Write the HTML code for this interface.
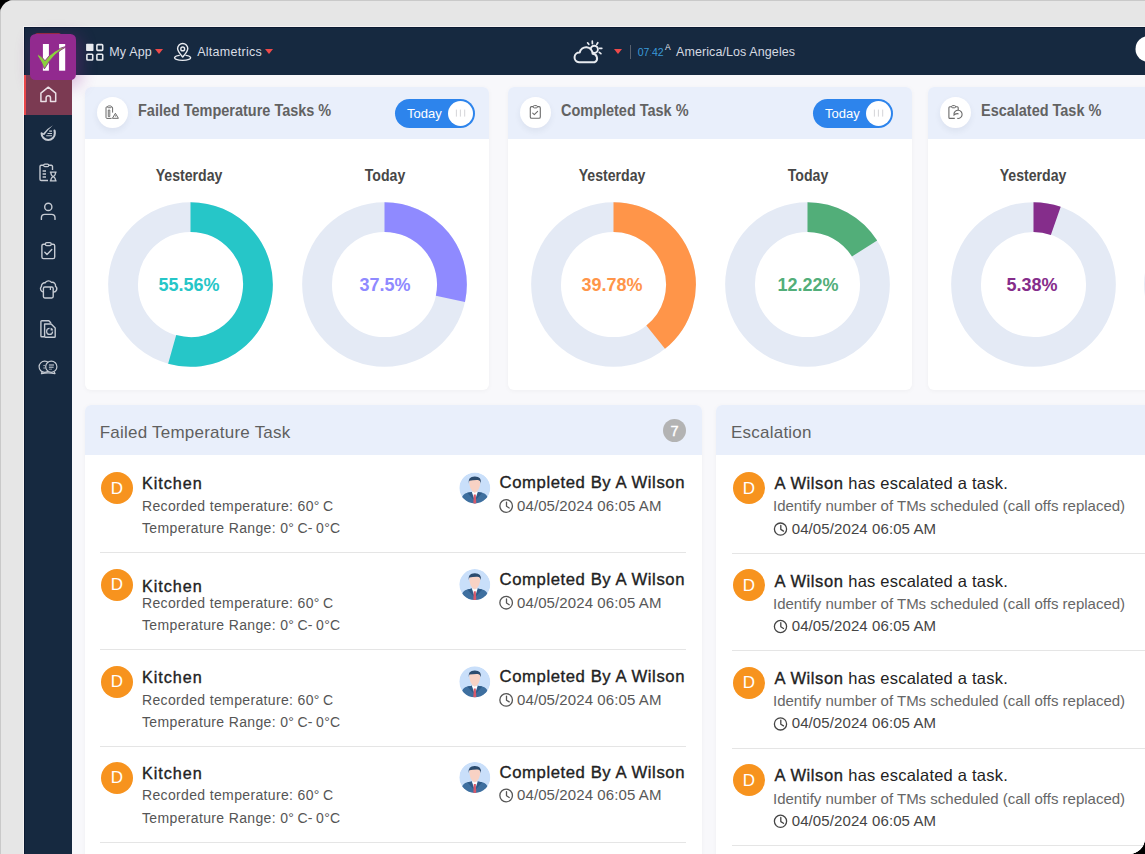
<!DOCTYPE html>
<html><head><meta charset="utf-8">
<style>
*{box-sizing:border-box;margin:0;padding:0}
html,body{width:1145px;height:854px;overflow:hidden;background:#000}
body{font-family:"Liberation Sans",sans-serif;position:relative}
#frame{position:absolute;left:0;top:0;width:1145px;height:854px;background:#e6e6e6;border-radius:14px 0 16px 0;overflow:hidden}
.abs{position:absolute}
.tx{white-space:nowrap}
</style></head><body>
<div id="frame">
<div class="abs" style="left:0px;top:0px;width:1145px;height:1px;background:#c9c9c9;"></div>
<div class="abs" style="left:0px;top:0px;width:1px;height:854px;background:#c9c9c9;"></div>
<div class="abs" style="left:23px;top:26px;width:1122px;height:1px;background:#f4f2f2;"></div>
<div class="abs" style="left:23px;top:26px;width:1px;height:828px;background:#f4f2f2;"></div>
<div class="abs" style="left:24px;top:27px;width:1121px;height:827px;background:#f8f8fb;"></div>
<div class="abs" style="left:24px;top:27px;width:1121px;height:48px;background:#162940;"></div>
<div class="abs" style="left:24px;top:75px;width:48px;height:779px;background:#162940;"></div>
<div class="abs" style="left:24px;top:27px;width:1121px;height:1px;background:#0b1a32;"></div>
<div class="abs" style="left:24px;top:27px;width:1px;height:827px;background:#0b1a32;"></div>
<div class="abs" style="left:85px;top:87px;width:404px;height:303px;background:#fff;border-radius:6px;box-shadow:0 1px 5px rgba(0,0,0,0.04)"></div>
<div class="abs" style="left:85px;top:87px;width:404px;height:52px;background:#e9effb;border-radius:6px 6px 0 0"></div>
<div class="abs" style="left:96.8px;top:97px;width:30.8px;height:30.8px;background:#fff;border-radius:50%;box-shadow:0 3px 6px rgba(40,50,90,0.07)"></div>
<div class="abs tx" style="left:137.50px;top:102.50px;font-size:16px;line-height:16px;color:#626262;font-weight:700;letter-spacing:0px;transform:scale(0.904,1);transform-origin:0 13.60px;">Failed Temperature Tasks %</div>
<div class="abs" style="left:395px;top:99px;width:80px;height:29px;background:#2d84ec;border-radius:15px"></div>
<div class="abs" style="left:448px;top:101px;width:25px;height:25px;background:#fff;border-radius:50%"></div>
<div class="abs tx" style="left:407.00px;top:106.95px;font-size:13px;line-height:13px;color:#fff;font-weight:400;letter-spacing:0px;">Today</div>
<div class="abs tx" style="left:89.00px;width:200px;text-align:center;top:167.90px;font-size:16px;line-height:16px;color:#474747;font-weight:700;letter-spacing:0px;transform:scaleX(0.882);transform-origin:50% 0;">Yesterday</div>
<svg class="abs" style="left:107.70px;top:202.3px" width="165" height="165" viewBox="0 0 165 165"><circle cx="82.5" cy="82.5" r="67.45" fill="none" stroke="#e4eaf5" stroke-width="29.8"/><path d="M82.50 15.05 A67.45 67.45 0 1 1 64.17 147.41" fill="none" stroke="#26c6c8" stroke-width="29.8"/></svg>
<div class="abs tx" style="left:89.20px;width:200px;text-align:center;top:275.56px;font-size:18.4px;line-height:18.4px;color:#26c6c8;font-weight:700;letter-spacing:0px;transform:scaleX(0.979);transform-origin:50% 0;">55.56%</div>
<div class="abs tx" style="left:284.50px;width:200px;text-align:center;top:167.90px;font-size:16px;line-height:16px;color:#474747;font-weight:700;letter-spacing:0px;transform:scaleX(0.882);transform-origin:50% 0;">Today</div>
<svg class="abs" style="left:301.50px;top:202.3px" width="165" height="165" viewBox="0 0 165 165"><circle cx="82.5" cy="82.5" r="67.45" fill="none" stroke="#e4eaf5" stroke-width="29.8"/><path d="M82.50 15.05 A67.45 67.45 0 0 1 148.42 96.80" fill="none" stroke="#8f8aff" stroke-width="29.8"/></svg>
<div class="abs tx" style="left:284.50px;width:200px;text-align:center;top:275.56px;font-size:18.4px;line-height:18.4px;color:#8f8aff;font-weight:700;letter-spacing:0px;transform:scaleX(0.979);transform-origin:50% 0;">37.5%</div>
<div class="abs" style="left:508px;top:87px;width:404px;height:303px;background:#fff;border-radius:6px;box-shadow:0 1px 5px rgba(0,0,0,0.04)"></div>
<div class="abs" style="left:508px;top:87px;width:404px;height:52px;background:#e9effb;border-radius:6px 6px 0 0"></div>
<div class="abs" style="left:519.8px;top:97px;width:30.8px;height:30.8px;background:#fff;border-radius:50%;box-shadow:0 3px 6px rgba(40,50,90,0.07)"></div>
<div class="abs tx" style="left:560.50px;top:102.50px;font-size:16px;line-height:16px;color:#626262;font-weight:700;letter-spacing:0px;transform:scale(0.904,1);transform-origin:0 13.60px;">Completed Task %</div>
<div class="abs" style="left:813px;top:99px;width:80px;height:29px;background:#2d84ec;border-radius:15px"></div>
<div class="abs" style="left:866px;top:101px;width:25px;height:25px;background:#fff;border-radius:50%"></div>
<div class="abs tx" style="left:825.00px;top:106.95px;font-size:13px;line-height:13px;color:#fff;font-weight:400;letter-spacing:0px;">Today</div>
<div class="abs tx" style="left:512.10px;width:200px;text-align:center;top:167.90px;font-size:16px;line-height:16px;color:#474747;font-weight:700;letter-spacing:0px;transform:scaleX(0.882);transform-origin:50% 0;">Yesterday</div>
<svg class="abs" style="left:531.00px;top:202.3px" width="165" height="165" viewBox="0 0 165 165"><circle cx="82.5" cy="82.5" r="67.45" fill="none" stroke="#e4eaf5" stroke-width="29.8"/><path d="M82.50 15.05 A67.45 67.45 0 0 1 124.67 135.14" fill="none" stroke="#ff9549" stroke-width="29.8"/></svg>
<div class="abs tx" style="left:512.00px;width:200px;text-align:center;top:275.56px;font-size:18.4px;line-height:18.4px;color:#ff9549;font-weight:700;letter-spacing:0px;transform:scaleX(0.979);transform-origin:50% 0;">39.78%</div>
<div class="abs tx" style="left:708.00px;width:200px;text-align:center;top:167.90px;font-size:16px;line-height:16px;color:#474747;font-weight:700;letter-spacing:0px;transform:scaleX(0.882);transform-origin:50% 0;">Today</div>
<svg class="abs" style="left:724.50px;top:202.3px" width="165" height="165" viewBox="0 0 165 165"><circle cx="82.5" cy="82.5" r="67.45" fill="none" stroke="#e4eaf5" stroke-width="29.8"/><path d="M82.50 15.05 A67.45 67.45 0 0 1 139.56 46.54" fill="none" stroke="#52ae79" stroke-width="29.8"/></svg>
<div class="abs tx" style="left:707.80px;width:200px;text-align:center;top:275.56px;font-size:18.4px;line-height:18.4px;color:#52ae79;font-weight:700;letter-spacing:0px;transform:scaleX(0.979);transform-origin:50% 0;">12.22%</div>
<div class="abs" style="left:928px;top:87px;width:404px;height:303px;background:#fff;border-radius:6px;box-shadow:0 1px 5px rgba(0,0,0,0.04)"></div>
<div class="abs" style="left:928px;top:87px;width:404px;height:52px;background:#e9effb;border-radius:6px 6px 0 0"></div>
<div class="abs" style="left:939.8px;top:97px;width:30.8px;height:30.8px;background:#fff;border-radius:50%;box-shadow:0 3px 6px rgba(40,50,90,0.07)"></div>
<div class="abs tx" style="left:980.50px;top:102.50px;font-size:16px;line-height:16px;color:#626262;font-weight:700;letter-spacing:0px;transform:scale(0.904,1);transform-origin:0 13.60px;">Escalated Task %</div>
<div class="abs tx" style="left:932.60px;width:200px;text-align:center;top:167.90px;font-size:16px;line-height:16px;color:#474747;font-weight:700;letter-spacing:0px;transform:scaleX(0.882);transform-origin:50% 0;">Yesterday</div>
<svg class="abs" style="left:950.50px;top:202.3px" width="165" height="165" viewBox="0 0 165 165"><circle cx="82.5" cy="82.5" r="67.45" fill="none" stroke="#e4eaf5" stroke-width="29.8"/><path d="M82.50 15.05 A67.45 67.45 0 0 1 104.79 18.84" fill="none" stroke="#852d8b" stroke-width="29.8"/></svg>
<div class="abs tx" style="left:931.60px;width:200px;text-align:center;top:275.56px;font-size:18.4px;line-height:18.4px;color:#852d8b;font-weight:700;letter-spacing:0px;transform:scaleX(0.979);transform-origin:50% 0;">5.38%</div>
<div class="abs tx" style="left:1125.50px;width:200px;text-align:center;top:167.90px;font-size:16px;line-height:16px;color:#474747;font-weight:700;letter-spacing:0px;transform:scaleX(0.882);transform-origin:50% 0;">Today</div>
<svg class="abs" style="left:1143.50px;top:202.3px" width="165" height="165" viewBox="0 0 165 165"><circle cx="82.5" cy="82.5" r="67.45" fill="none" stroke="#e4eaf5" stroke-width="29.8"/><path d="M82.50 15.05 A67.45 67.45 0 0 1 146.65 103.34" fill="none" stroke="#8f8aff" stroke-width="29.8"/></svg>
<div class="abs" style="left:85px;top:405px;width:617px;height:460px;background:#fff;border-radius:6px;box-shadow:0 1px 5px rgba(0,0,0,0.04)"></div>
<div class="abs" style="left:85px;top:405px;width:617px;height:50px;background:#e9effb;border-radius:6px 6px 0 0"></div>
<div class="abs tx" style="left:99.70px;top:424.35px;font-size:17px;line-height:17px;color:#5f5f5f;font-weight:400;letter-spacing:0.23px;">Failed Temperature Task</div>
<div class="abs" style="left:663px;top:419px;width:23px;height:23px;background:#b3b3b3;border-radius:50%"></div>
<div class="abs tx" style="left:664.5px;width:20px;text-align:center;top:423.68px;font-size:14.5px;line-height:14.5px;color:#fff;-webkit-text-stroke:0.4px #fff">7</div>
<div class="abs" style="left:716px;top:405px;width:450px;height:460px;background:#fff;border-radius:6px;box-shadow:0 1px 5px rgba(0,0,0,0.04)"></div>
<div class="abs" style="left:716px;top:405px;width:450px;height:50px;background:#e9effb;border-radius:6px 6px 0 0"></div>
<div class="abs tx" style="left:731.00px;top:424.35px;font-size:17px;line-height:17px;color:#5f5f5f;font-weight:400;letter-spacing:0.23px;">Escalation</div>
<div class="abs" style="left:101px;top:472px;width:32px;height:32px;background:#f7931e;border-radius:50%"></div>
<div class="abs tx" style="left:101.00px;width:32px;text-align:center;top:479.55px;font-size:17px;line-height:17px;color:#fff;font-weight:400;letter-spacing:0px;">D</div>
<div class="abs tx" style="left:142.00px;top:475.13px;font-size:16.2px;line-height:16.2px;color:#222;font-weight:400;letter-spacing:0.95px;-webkit-text-stroke:0.35px #222;">Kitchen</div>
<div class="abs tx" style="left:142.00px;top:498.90px;font-size:14px;line-height:14px;color:#555;font-weight:400;letter-spacing:0.35px;">Recorded temperature: 60°&thinsp;C</div>
<div class="abs tx" style="left:142.00px;top:521.00px;font-size:14px;line-height:14px;color:#555;font-weight:400;letter-spacing:0.35px;">Temperature Range: 0°&thinsp;C-&thinsp;0°C</div>
<div class="abs tx" style="left:499.60px;top:475.00px;font-size:16.7px;line-height:16.7px;color:#222;font-weight:400;letter-spacing:0.57px;-webkit-text-stroke:0.35px #222;">Completed By A Wilson</div>
<div class="abs tx" style="left:517.00px;top:497.85px;font-size:15px;line-height:15px;color:#585858;font-weight:400;letter-spacing:0.1px;">04/05/2024 06:05 AM</div>
<div class="abs" style="left:100px;top:552px;width:586px;height:1px;background:#e5e5e5;"></div>
<div class="abs" style="left:101px;top:568.7px;width:32px;height:32px;background:#f7931e;border-radius:50%"></div>
<div class="abs tx" style="left:101.00px;width:32px;text-align:center;top:576.25px;font-size:17px;line-height:17px;color:#fff;font-weight:400;letter-spacing:0px;">D</div>
<div class="abs tx" style="left:142.00px;top:577.83px;font-size:16.2px;line-height:16.2px;color:#222;font-weight:400;letter-spacing:0.95px;-webkit-text-stroke:0.35px #222;">Kitchen</div>
<div class="abs tx" style="left:142.00px;top:595.60px;font-size:14px;line-height:14px;color:#555;font-weight:400;letter-spacing:0.35px;">Recorded temperature: 60°&thinsp;C</div>
<div class="abs tx" style="left:142.00px;top:617.70px;font-size:14px;line-height:14px;color:#555;font-weight:400;letter-spacing:0.35px;">Temperature Range: 0°&thinsp;C-&thinsp;0°C</div>
<div class="abs tx" style="left:499.60px;top:571.70px;font-size:16.7px;line-height:16.7px;color:#222;font-weight:400;letter-spacing:0.57px;-webkit-text-stroke:0.35px #222;">Completed By A Wilson</div>
<div class="abs tx" style="left:517.00px;top:594.55px;font-size:15px;line-height:15px;color:#585858;font-weight:400;letter-spacing:0.1px;">04/05/2024 06:05 AM</div>
<div class="abs" style="left:100px;top:648.7px;width:586px;height:1px;background:#e5e5e5;"></div>
<div class="abs" style="left:101px;top:665.9px;width:32px;height:32px;background:#f7931e;border-radius:50%"></div>
<div class="abs tx" style="left:101.00px;width:32px;text-align:center;top:673.45px;font-size:17px;line-height:17px;color:#fff;font-weight:400;letter-spacing:0px;">D</div>
<div class="abs tx" style="left:142.00px;top:669.03px;font-size:16.2px;line-height:16.2px;color:#222;font-weight:400;letter-spacing:0.95px;-webkit-text-stroke:0.35px #222;">Kitchen</div>
<div class="abs tx" style="left:142.00px;top:692.80px;font-size:14px;line-height:14px;color:#555;font-weight:400;letter-spacing:0.35px;">Recorded temperature: 60°&thinsp;C</div>
<div class="abs tx" style="left:142.00px;top:714.90px;font-size:14px;line-height:14px;color:#555;font-weight:400;letter-spacing:0.35px;">Temperature Range: 0°&thinsp;C-&thinsp;0°C</div>
<div class="abs tx" style="left:499.60px;top:668.90px;font-size:16.7px;line-height:16.7px;color:#222;font-weight:400;letter-spacing:0.57px;-webkit-text-stroke:0.35px #222;">Completed By A Wilson</div>
<div class="abs tx" style="left:517.00px;top:691.75px;font-size:15px;line-height:15px;color:#585858;font-weight:400;letter-spacing:0.1px;">04/05/2024 06:05 AM</div>
<div class="abs" style="left:100px;top:745.9px;width:586px;height:1px;background:#e5e5e5;"></div>
<div class="abs" style="left:101px;top:761.5px;width:32px;height:32px;background:#f7931e;border-radius:50%"></div>
<div class="abs tx" style="left:101.00px;width:32px;text-align:center;top:769.05px;font-size:17px;line-height:17px;color:#fff;font-weight:400;letter-spacing:0px;">D</div>
<div class="abs tx" style="left:142.00px;top:764.63px;font-size:16.2px;line-height:16.2px;color:#222;font-weight:400;letter-spacing:0.95px;-webkit-text-stroke:0.35px #222;">Kitchen</div>
<div class="abs tx" style="left:142.00px;top:788.40px;font-size:14px;line-height:14px;color:#555;font-weight:400;letter-spacing:0.35px;">Recorded temperature: 60°&thinsp;C</div>
<div class="abs tx" style="left:142.00px;top:810.50px;font-size:14px;line-height:14px;color:#555;font-weight:400;letter-spacing:0.35px;">Temperature Range: 0°&thinsp;C-&thinsp;0°C</div>
<div class="abs tx" style="left:499.60px;top:764.50px;font-size:16.7px;line-height:16.7px;color:#222;font-weight:400;letter-spacing:0.57px;-webkit-text-stroke:0.35px #222;">Completed By A Wilson</div>
<div class="abs tx" style="left:517.00px;top:787.35px;font-size:15px;line-height:15px;color:#585858;font-weight:400;letter-spacing:0.1px;">04/05/2024 06:05 AM</div>
<div class="abs" style="left:100px;top:841.5px;width:586px;height:1px;background:#e5e5e5;"></div>
<div class="abs" style="left:733px;top:472px;width:32px;height:32px;background:#f7931e;border-radius:50%"></div>
<div class="abs tx" style="left:733.00px;width:32px;text-align:center;top:479.55px;font-size:17px;line-height:17px;color:#fff;font-weight:400;letter-spacing:0px;">D</div>
<div class="abs tx" style="left:774.50px;top:475.18px;font-size:16.5px;line-height:16.5px;color:#222;font-weight:400;letter-spacing:0.22px;"><span style='-webkit-text-stroke:0.35px #222;letter-spacing:0.6px'>A Wilson</span> has escalated a task.</div>
<div class="abs tx" style="left:773.00px;top:498.35px;font-size:15px;line-height:15px;color:#666;font-weight:400;letter-spacing:0px;">Identify number of TMs scheduled (call offs replaced)</div>
<div class="abs tx" style="left:791.70px;top:520.65px;font-size:15px;line-height:15px;color:#444;font-weight:400;letter-spacing:0.1px;">04/05/2024 06:05 AM</div>
<div class="abs" style="left:732px;top:553px;width:420px;height:1px;background:#e5e5e5;"></div>
<div class="abs" style="left:733px;top:569.4px;width:32px;height:32px;background:#f7931e;border-radius:50%"></div>
<div class="abs tx" style="left:733.00px;width:32px;text-align:center;top:576.95px;font-size:17px;line-height:17px;color:#fff;font-weight:400;letter-spacing:0px;">D</div>
<div class="abs tx" style="left:774.50px;top:572.58px;font-size:16.5px;line-height:16.5px;color:#222;font-weight:400;letter-spacing:0.22px;"><span style='-webkit-text-stroke:0.35px #222;letter-spacing:0.6px'>A Wilson</span> has escalated a task.</div>
<div class="abs tx" style="left:773.00px;top:595.75px;font-size:15px;line-height:15px;color:#666;font-weight:400;letter-spacing:0px;">Identify number of TMs scheduled (call offs replaced)</div>
<div class="abs tx" style="left:791.70px;top:618.05px;font-size:15px;line-height:15px;color:#444;font-weight:400;letter-spacing:0.1px;">04/05/2024 06:05 AM</div>
<div class="abs" style="left:732px;top:650.4px;width:420px;height:1px;background:#e5e5e5;"></div>
<div class="abs" style="left:733px;top:666.8px;width:32px;height:32px;background:#f7931e;border-radius:50%"></div>
<div class="abs tx" style="left:733.00px;width:32px;text-align:center;top:674.35px;font-size:17px;line-height:17px;color:#fff;font-weight:400;letter-spacing:0px;">D</div>
<div class="abs tx" style="left:774.50px;top:669.98px;font-size:16.5px;line-height:16.5px;color:#222;font-weight:400;letter-spacing:0.22px;"><span style='-webkit-text-stroke:0.35px #222;letter-spacing:0.6px'>A Wilson</span> has escalated a task.</div>
<div class="abs tx" style="left:773.00px;top:693.15px;font-size:15px;line-height:15px;color:#666;font-weight:400;letter-spacing:0px;">Identify number of TMs scheduled (call offs replaced)</div>
<div class="abs tx" style="left:791.70px;top:715.45px;font-size:15px;line-height:15px;color:#444;font-weight:400;letter-spacing:0.1px;">04/05/2024 06:05 AM</div>
<div class="abs" style="left:732px;top:747.8px;width:420px;height:1px;background:#e5e5e5;"></div>
<div class="abs" style="left:733px;top:764.2px;width:32px;height:32px;background:#f7931e;border-radius:50%"></div>
<div class="abs tx" style="left:733.00px;width:32px;text-align:center;top:771.75px;font-size:17px;line-height:17px;color:#fff;font-weight:400;letter-spacing:0px;">D</div>
<div class="abs tx" style="left:774.50px;top:767.38px;font-size:16.5px;line-height:16.5px;color:#222;font-weight:400;letter-spacing:0.22px;"><span style='-webkit-text-stroke:0.35px #222;letter-spacing:0.6px'>A Wilson</span> has escalated a task.</div>
<div class="abs tx" style="left:773.00px;top:790.55px;font-size:15px;line-height:15px;color:#666;font-weight:400;letter-spacing:0px;">Identify number of TMs scheduled (call offs replaced)</div>
<div class="abs tx" style="left:791.70px;top:812.85px;font-size:15px;line-height:15px;color:#444;font-weight:400;letter-spacing:0.1px;">04/05/2024 06:05 AM</div>
<div class="abs" style="left:732px;top:845.2px;width:420px;height:1px;background:#e5e5e5;"></div>
<div class="abs" style="left:30px;top:34px;width:46px;height:46px;background:transparent;border-radius:6px;box-shadow:3px 4px 16px 2px rgba(150,40,150,0.30)"></div>
<div class="abs" style="left:24px;top:75px;width:48px;height:40px;background:#7b3a52;"></div>
<div class="abs" style="left:24px;top:75px;width:2px;height:40px;background:#e8474a;"></div>
<div class="abs tx" style="left:109.30px;top:46.27px;font-size:12.5px;line-height:12.5px;color:#dadee5;font-weight:400;letter-spacing:0.16px;">My App</div>
<div class="abs tx" style="left:197.20px;top:46.27px;font-size:12.5px;line-height:12.5px;color:#dadee5;font-weight:400;letter-spacing:0.27px;">Altametrics</div>
<div class="abs tx" style="left:637.80px;top:46.68px;font-size:10.5px;line-height:10.5px;color:#3a9ad9;font-weight:400;letter-spacing:-0.1px;">07<span style='opacity:0.35'>:</span>42</div>
<div class="abs tx" style="left:665.00px;top:42.77px;font-size:8.5px;line-height:8.5px;color:#e1e5ec;font-weight:400;letter-spacing:0px;">A</div>
<div class="abs tx" style="left:676.00px;top:45.77px;font-size:12.5px;line-height:12.5px;color:#d5d9e0;font-weight:400;letter-spacing:0.09px;">America/Los Angeles</div>
<div class="abs" style="left:154.7px;top:49px;width:0;height:0;border-left:4.5px solid transparent;border-right:4.5px solid transparent;border-top:5px solid #ee4a4a"></div>
<div class="abs" style="left:265.3px;top:49px;width:0;height:0;border-left:4.5px solid transparent;border-right:4.5px solid transparent;border-top:5px solid #ee4a4a"></div>
<div class="abs" style="left:613.7px;top:49px;width:0;height:0;border-left:4.5px solid transparent;border-right:4.5px solid transparent;border-top:5px solid #ee4a4a"></div>
<div class="abs" style="left:629.5px;top:44.5px;width:1.5px;height:14.5px;background:#59616e;"></div>
<svg class="abs" style="left:0;top:0" width="1145" height="854" viewBox="0 0 1145 854"><defs><clipPath id="avc"><circle r="15.5"/></clipPath></defs><rect x="35" y="33.2" width="26" height="4" rx="2" fill="#c0283f"/><rect x="30" y="34" width="46" height="46" rx="5.5" fill="#922a8f"/><rect x="42.9" y="44" width="6" height="26.7" fill="#fff"/><rect x="59.1" y="44" width="6.1" height="26.7" fill="#fff"/><path d="M38.4 54.6 Q41 55.6 45 60.8 Q53 49.3 67.6 45.9 Q53.5 53 44.4 68.9 Q41.2 61 37.9 56.4 Q37.4 55 38.4 54.6 Z" fill="#8bd03e" stroke="#922a8f" stroke-width="0.9" stroke-linejoin="round"/><rect x="86.1" y="43.8" width="7.4" height="7.2" rx="0.8" fill="#e8ebf0"/><rect x="96.9" y="44.6" width="5.8" height="5.8" rx="0.8" fill="none" stroke="#e8ebf0" stroke-width="1.6"/><rect x="86.9" y="54.2" width="5.8" height="5.8" rx="0.8" fill="none" stroke="#e8ebf0" stroke-width="1.6"/><rect x="96.9" y="54.2" width="5.8" height="5.8" rx="0.8" fill="none" stroke="#e8ebf0" stroke-width="1.6"/><path d="M179.2 55.4 A8 2.6 0 1 0 186 55.4" fill="none" stroke="#e8ebf0" stroke-width="1.4" stroke-linecap="round"/><path d="M182.7 57 C181 55 177.6 51.5 177.6 48.6 A5.1 5.1 0 0 1 187.8 48.6 C187.8 51.5 184.4 55 182.7 57 Z" fill="none" stroke="#e8ebf0" stroke-width="1.4" stroke-linejoin="round"/><circle cx="182.7" cy="48.9" r="1.9" fill="none" stroke="#e8ebf0" stroke-width="1.4"/><circle cx="594.3" cy="49.3" r="3.6" fill="none" stroke="#e8ebf0" stroke-width="1.9"/><path d="M579 62.2 H594.8 A4.5 4.5 0 0 0 592.6 53.8 A6.5 6.5 0 0 0 579.7 52.6 A4.8 4.8 0 0 0 579 62.2 Z" fill="#162940" stroke="#e8ebf0" stroke-width="2" stroke-linejoin="round"/><line x1="592.3" y1="41.2" x2="592.4" y2="43.6" stroke="#e8ebf0" stroke-width="1.7" stroke-linecap="round"/><line x1="587.6" y1="42.8" x2="588.8" y2="44.3" stroke="#e8ebf0" stroke-width="1.7" stroke-linecap="round"/><line x1="597.8" y1="42.7" x2="596.8" y2="44.4" stroke="#e8ebf0" stroke-width="1.7" stroke-linecap="round"/><line x1="599.5" y1="48.3" x2="601.8" y2="48.3" stroke="#e8ebf0" stroke-width="1.7" stroke-linecap="round"/><line x1="599.3" y1="52.3" x2="600.9" y2="53.6" stroke="#e8ebf0" stroke-width="1.7" stroke-linecap="round"/><circle cx="1148.5" cy="49" r="13" fill="#fff"/><path d="M40.9 93.2 L48.3 87.2 L55.7 93.2 V101.6 H50.5 V97.9 a2.2 2.2 0 0 0 -4.4 0 V101.6 H40.9 Z" fill="none" stroke="#eadfe5" stroke-width="1.5" stroke-linejoin="round"/><path d="M41.6 133.4 A6.6 6.6 0 0 0 54.8 133.4 A6.6 6.6 0 0 0 54.5 130.6" fill="none" stroke="#c6cbd3" stroke-width="2.1" stroke-linecap="round"/><path d="M41.2 133.6 Q42 132.4 43.4 133.2 Q47 128.5 53 125.2 Q48 129.5 44.3 135 Q42.2 135.2 41.2 133.6 Z" fill="#c6cbd3"/><line x1="49.2" y1="131.1" x2="52" y2="131.1" stroke="#c6cbd3" stroke-width="1.1"/><line x1="47.5" y1="133.5" x2="52" y2="133.5" stroke="#c6cbd3" stroke-width="1.1"/><line x1="46.2" y1="135.8" x2="52" y2="135.8" stroke="#c6cbd3" stroke-width="1.1"/><path d="M52.5 170 V166.5 a1.2 1.2 0 0 0 -1.2 -1.2 H41.2 a1.2 1.2 0 0 0 -1.2 1.2 V179.3 a1.2 1.2 0 0 0 1.2 1.2 H48" fill="none" stroke="#c6cbd3" stroke-width="1.4"/><rect x="43.7" y="164.2" width="5" height="2.4" rx="1.1" fill="#162940" stroke="#c6cbd3" stroke-width="1.2"/><line x1="42.6" y1="171" x2="46" y2="171" stroke="#c6cbd3" stroke-width="1.3"/><line x1="42.6" y1="174" x2="46" y2="174" stroke="#c6cbd3" stroke-width="1.3"/><line x1="42.6" y1="177" x2="46" y2="177" stroke="#c6cbd3" stroke-width="1.3"/><path d="M49.8 172.2 H56.6 M49.8 180.8 H56.6 M50.8 172.2 Q50.8 175.3 53.2 176.5 Q55.6 177.7 55.6 180.8 M55.6 172.2 Q55.6 175.3 53.2 176.5 Q50.8 177.7 50.8 180.8" fill="none" stroke="#c6cbd3" stroke-width="1.3"/><circle cx="48.3" cy="206.9" r="3.6" fill="none" stroke="#c6cbd3" stroke-width="1.4"/><path d="M41.4 219.4 V217.8 a3.4 3.4 0 0 1 3.4 -3.4 H51.6 a3.4 3.4 0 0 1 3.4 3.4 V219.4" fill="none" stroke="#c6cbd3" stroke-width="1.4" stroke-linecap="round"/><rect x="41.9" y="244.2" width="12.8" height="14.4" rx="1.6" fill="none" stroke="#c6cbd3" stroke-width="1.4"/><rect x="45.4" y="242.6" width="5.8" height="3" rx="1.3" fill="#162940" stroke="#c6cbd3" stroke-width="1.3"/><path d="M44.8 252.3 L47 254.6 L51.8 249.6" fill="none" stroke="#c6cbd3" stroke-width="1.4" stroke-linecap="round" stroke-linejoin="round"/><path d="M43.8 292 a3.3 3.3 0 0 1 -2.4 -5.6 a3.4 3.4 0 0 1 3.7 -3.6 a3.8 3.8 0 0 1 6.4 -0.4 a3.3 3.3 0 0 1 4 3.9 a3.2 3.2 0 0 1 -2.5 5.7" fill="none" stroke="#c6cbd3" stroke-width="1.4"/><rect x="43.4" y="287" width="9.8" height="11" rx="1.4" fill="#162940" stroke="#c6cbd3" stroke-width="1.4"/><line x1="50.4" y1="287" x2="50.4" y2="290" stroke="#c6cbd3" stroke-width="1.2"/><path d="M44.5 336.8 H41.8 a0.9 0.9 0 0 1 -0.9 -0.9 V321.6 a0.9 0.9 0 0 1 0.9 -0.9 H48.8 L51 323" fill="none" stroke="#c6cbd3" stroke-width="1.4"/><path d="M44.6 324 H51.2 L55.2 328 V336.4 a0.9 0.9 0 0 1 -0.9 0.9 H45.5 a0.9 0.9 0 0 1 -0.9 -0.9 Z" fill="#162940" stroke="#c6cbd3" stroke-width="1.4" stroke-linejoin="round"/><path d="M52.6 331.4 A3 3 0 1 1 49.6 328.4" fill="none" stroke="#c6cbd3" stroke-width="1.2"/><path d="M50.6 327.8 A3 3 0 0 1 53.2 330.4 H50.6 Z" fill="#c6cbd3"/><circle cx="44.7" cy="366.8" r="5.6" fill="none" stroke="#c6cbd3" stroke-width="1.2"/><path d="M42.2 371.6 L41.4 373.6 Q48 372 55 373.6 L54.2 371.6" fill="none" stroke="#c6cbd3" stroke-width="1.2" stroke-linejoin="round"/><circle cx="51.3" cy="366.7" r="5.6" fill="#162940" stroke="#c6cbd3" stroke-width="1.2"/><line x1="48.9" y1="365.0" x2="54" y2="365.0" stroke="#c6cbd3" stroke-width="1.1"/><line x1="48.9" y1="367.2" x2="53.6" y2="367.2" stroke="#c6cbd3" stroke-width="1.1"/><line x1="48.9" y1="369.2" x2="52" y2="369.2" stroke="#c6cbd3" stroke-width="1.0" opacity="0.7"/><line x1="43.3" y1="365.6" x2="45.4" y2="365.6" stroke="#c6cbd3" stroke-width="1.0" opacity="0.8"/><line x1="43.3" y1="368.0" x2="45.4" y2="368.0" stroke="#c6cbd3" stroke-width="1.0" opacity="0.8"/><path d="M112.6 112.6 V107.8 a1 1 0 0 0 -1 -1 H107 a1 1 0 0 0 -1 1 V117.4 a1 1 0 0 0 1 1 H111.6" fill="none" stroke="#6a6a6a" stroke-width="1"/><rect x="107.6" y="105.9" width="3.8" height="1.8" rx="0.9" fill="#fff" stroke="#6a6a6a" stroke-width="0.9"/><path d="M108.3 110 h1.5 v6.5 h-1.5 Z" fill="none" stroke="#6a6a6a" stroke-width="0.9"/><path d="M115.4 113.3 L118.4 118.3 H112.4 Z" fill="#fff" stroke="#6a6a6a" stroke-width="1" stroke-linejoin="round"/><line x1="115.4" y1="115.3" x2="115.4" y2="116.6" stroke="#6a6a6a" stroke-width="0.9"/><rect x="530.3" y="106.6" width="10" height="11.7" rx="1.3" fill="none" stroke="#6a6a6a" stroke-width="1.1"/><rect x="533.2" y="105.6" width="4.2" height="2.3" rx="1.1" fill="#fff" stroke="#6a6a6a" stroke-width="1"/><path d="M532.7 113.2 L534.3 114.6 L537.6 111.4" fill="none" stroke="#6a6a6a" stroke-width="1.1" stroke-linecap="round" stroke-linejoin="round"/><path d="M958.2 110 V107.7 a1 1 0 0 0 -1 -1 H949.9 a1 1 0 0 0 -1 1 V117.4 a1 1 0 0 0 1 1 H954.8" fill="none" stroke="#6a6a6a" stroke-width="1.1"/><rect x="951.6" y="105.6" width="4" height="2.2" rx="1.1" fill="#fff" stroke="#6a6a6a" stroke-width="1"/><path d="M957.3 118.4 A4.1 4.1 0 1 0 953.9 114.4" fill="none" stroke="#6a6a6a" stroke-width="1.1"/><path d="M953.5 115.5 Q955 113.3 958.5 113.8" fill="none" stroke="#6a6a6a" stroke-width="1.2"/><line x1="456.4" y1="109.6" x2="456.4" y2="116.6" stroke="#cfcfd4" stroke-width="0.9"/><line x1="460.4" y1="109.6" x2="460.4" y2="116.6" stroke="#cfcfd4" stroke-width="0.9"/><line x1="464.7" y1="109.6" x2="464.7" y2="116.6" stroke="#cfcfd4" stroke-width="0.9"/><line x1="874.4" y1="109.6" x2="874.4" y2="116.6" stroke="#cfcfd4" stroke-width="0.9"/><line x1="878.4" y1="109.6" x2="878.4" y2="116.6" stroke="#cfcfd4" stroke-width="0.9"/><line x1="882.7" y1="109.6" x2="882.7" y2="116.6" stroke="#cfcfd4" stroke-width="0.9"/><g transform="translate(474.8 487.9)" clip-path="url(#avc)"><circle r="15.5" fill="#c9dffa"/><path d="M-14 17 L-13 10.5 Q-12.2 5.8 -7.5 4.8 L-2.8 4 L0 9 L2.8 4 L7.5 4.8 Q12.2 5.8 13 10.5 L14 17 Z" fill="#3e6f9f"/><path d="M-7.5 4.8 L-2.8 4 L-1 12 Z M7.5 4.8 L2.8 4 L1 12 Z" fill="#2f5b88"/><path d="M-2.9 4 L0 12.5 L2.9 4 Z" fill="#fff"/><path d="M-1 6.6 H1 L1.5 16 H-1.5 Z" fill="#d6596a"/><path d="M-5.6 -8.5 Q-5.8 2.6 0 5 Q5.8 2.6 5.6 -8.5 Z" fill="#f8d2c4"/><path d="M-6.2 -4.2 Q-7 -11.4 0 -11.3 Q7 -11.4 6.2 -4.2 Q5.6 -7.6 2.6 -7.9 Q-1.5 -8 -5.4 -7.2 Q-5.9 -6 -6.2 -4.2 Z" fill="#2b4b6e"/></g><circle cx="506.15" cy="506" r="6.3" fill="none" stroke="#555" stroke-width="1.3"/><path d="M506.5 502.2 V506.3 L509.2 508" fill="none" stroke="#555" stroke-width="1.3" stroke-linecap="round" stroke-linejoin="round"/><g transform="translate(474.8 584.6)" clip-path="url(#avc)"><circle r="15.5" fill="#c9dffa"/><path d="M-14 17 L-13 10.5 Q-12.2 5.8 -7.5 4.8 L-2.8 4 L0 9 L2.8 4 L7.5 4.8 Q12.2 5.8 13 10.5 L14 17 Z" fill="#3e6f9f"/><path d="M-7.5 4.8 L-2.8 4 L-1 12 Z M7.5 4.8 L2.8 4 L1 12 Z" fill="#2f5b88"/><path d="M-2.9 4 L0 12.5 L2.9 4 Z" fill="#fff"/><path d="M-1 6.6 H1 L1.5 16 H-1.5 Z" fill="#d6596a"/><path d="M-5.6 -8.5 Q-5.8 2.6 0 5 Q5.8 2.6 5.6 -8.5 Z" fill="#f8d2c4"/><path d="M-6.2 -4.2 Q-7 -11.4 0 -11.3 Q7 -11.4 6.2 -4.2 Q5.6 -7.6 2.6 -7.9 Q-1.5 -8 -5.4 -7.2 Q-5.9 -6 -6.2 -4.2 Z" fill="#2b4b6e"/></g><circle cx="506.15" cy="602.7" r="6.3" fill="none" stroke="#555" stroke-width="1.3"/><path d="M506.5 598.9 V603.0 L509.2 604.7" fill="none" stroke="#555" stroke-width="1.3" stroke-linecap="round" stroke-linejoin="round"/><g transform="translate(474.8 681.8)" clip-path="url(#avc)"><circle r="15.5" fill="#c9dffa"/><path d="M-14 17 L-13 10.5 Q-12.2 5.8 -7.5 4.8 L-2.8 4 L0 9 L2.8 4 L7.5 4.8 Q12.2 5.8 13 10.5 L14 17 Z" fill="#3e6f9f"/><path d="M-7.5 4.8 L-2.8 4 L-1 12 Z M7.5 4.8 L2.8 4 L1 12 Z" fill="#2f5b88"/><path d="M-2.9 4 L0 12.5 L2.9 4 Z" fill="#fff"/><path d="M-1 6.6 H1 L1.5 16 H-1.5 Z" fill="#d6596a"/><path d="M-5.6 -8.5 Q-5.8 2.6 0 5 Q5.8 2.6 5.6 -8.5 Z" fill="#f8d2c4"/><path d="M-6.2 -4.2 Q-7 -11.4 0 -11.3 Q7 -11.4 6.2 -4.2 Q5.6 -7.6 2.6 -7.9 Q-1.5 -8 -5.4 -7.2 Q-5.9 -6 -6.2 -4.2 Z" fill="#2b4b6e"/></g><circle cx="506.15" cy="699.9" r="6.3" fill="none" stroke="#555" stroke-width="1.3"/><path d="M506.5 696.1 V700.2 L509.2 701.9" fill="none" stroke="#555" stroke-width="1.3" stroke-linecap="round" stroke-linejoin="round"/><g transform="translate(474.8 777.4)" clip-path="url(#avc)"><circle r="15.5" fill="#c9dffa"/><path d="M-14 17 L-13 10.5 Q-12.2 5.8 -7.5 4.8 L-2.8 4 L0 9 L2.8 4 L7.5 4.8 Q12.2 5.8 13 10.5 L14 17 Z" fill="#3e6f9f"/><path d="M-7.5 4.8 L-2.8 4 L-1 12 Z M7.5 4.8 L2.8 4 L1 12 Z" fill="#2f5b88"/><path d="M-2.9 4 L0 12.5 L2.9 4 Z" fill="#fff"/><path d="M-1 6.6 H1 L1.5 16 H-1.5 Z" fill="#d6596a"/><path d="M-5.6 -8.5 Q-5.8 2.6 0 5 Q5.8 2.6 5.6 -8.5 Z" fill="#f8d2c4"/><path d="M-6.2 -4.2 Q-7 -11.4 0 -11.3 Q7 -11.4 6.2 -4.2 Q5.6 -7.6 2.6 -7.9 Q-1.5 -8 -5.4 -7.2 Q-5.9 -6 -6.2 -4.2 Z" fill="#2b4b6e"/></g><circle cx="506.15" cy="795.5" r="6.3" fill="none" stroke="#555" stroke-width="1.3"/><path d="M506.5 791.7 V795.8 L509.2 797.5" fill="none" stroke="#555" stroke-width="1.3" stroke-linecap="round" stroke-linejoin="round"/><circle cx="780.5" cy="529.1" r="6.1" fill="none" stroke="#444" stroke-width="1.3"/><path d="M780.8 525.3 V529.4 L783.5 531.1" fill="none" stroke="#444" stroke-width="1.3" stroke-linecap="round" stroke-linejoin="round"/><circle cx="780.5" cy="626.5" r="6.1" fill="none" stroke="#444" stroke-width="1.3"/><path d="M780.8 622.6999999999999 V626.8 L783.5 628.5" fill="none" stroke="#444" stroke-width="1.3" stroke-linecap="round" stroke-linejoin="round"/><circle cx="780.5" cy="723.9000000000001" r="6.1" fill="none" stroke="#444" stroke-width="1.3"/><path d="M780.8 720.0999999999999 V724.2 L783.5 725.9000000000001" fill="none" stroke="#444" stroke-width="1.3" stroke-linecap="round" stroke-linejoin="round"/><circle cx="780.5" cy="821.3" r="6.1" fill="none" stroke="#444" stroke-width="1.3"/><path d="M780.8 817.5 V821.5999999999999 L783.5 823.3" fill="none" stroke="#444" stroke-width="1.3" stroke-linecap="round" stroke-linejoin="round"/></svg>
</div>
</body></html>
